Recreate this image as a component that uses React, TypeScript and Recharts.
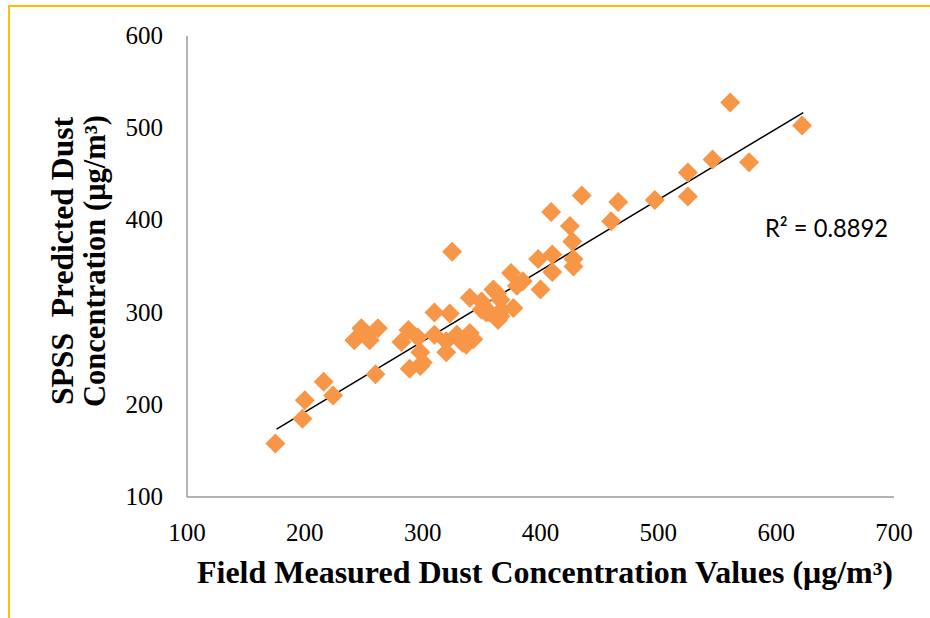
import { ScatterChart, Scatter, XAxis, YAxis, ReferenceLine } from 'recharts';

// field measured dust concentration (x) and SPSS predicted value (y), µg/m3
const fieldValues = [
  175, 198, 200, 216, 224, 260, 242, 248, 255, 262, 252,
  282, 288, 296, 298, 289, 298, 300, 310, 323, 310, 320,
  320, 329, 325, 334, 340, 343, 337, 340, 350, 350, 354,
  357, 360, 363, 364, 366, 366, 367, 375, 377, 380, 385,
  398, 400, 409, 410, 410, 425, 427, 428, 428, 435, 460,
  466, 497, 525, 525, 546, 561, 577, 622,
];
const predictedValues = [
  158, 185, 205, 225, 210, 233, 270, 283, 270, 283, 276,
  268, 281, 273, 257, 239, 242, 246, 300, 299, 276, 269,
  257, 276, 366, 267, 278, 271, 265, 316, 312, 303, 300,
  300, 325, 321, 292, 296, 314, 303, 343, 305, 329, 334,
  358, 325, 409, 363, 344, 394, 377, 358, 350, 427, 399,
  420, 422, 452, 426, 466, 528, 463, 503,
];

// linear trend line ends
const trendStart = { x: 176, y: 173.6 };
const trendEnd = { x: 623, y: 517 };
const rSquared = '0.8892';

const xTicks = [100, 200, 300, 400, 500, 600, 700];
const yTicks = [100, 200, 300, 400, 500, 600];

const data = fieldValues.map((x, i) => ({ x, y: predictedValues[i] }));

const serif = '"Liberation Serif", "Times New Roman", serif';

const Diamond = (props: any) => {
  const { cx, cy } = props;
  const r = 10;
  return <path d={`M${cx},${cy - r}L${cx + r},${cy}L${cx},${cy + r}L${cx - r},${cy}Z`} fill="#F79646" />;
};

const XTick = (props: any) => {
  const { x, y, payload } = props;
  return (
    <text x={x} y={y + 18} textAnchor="middle" fontFamily={serif} fontSize={25} fill="#000">
      {payload.value}
    </text>
  );
};

const YTick = (props: any) => {
  const { x, y, payload } = props;
  return (
    <text x={x} y={y + 8} textAnchor="end" fontFamily={serif} fontSize={25} fill="#000">
      {payload.value}
    </text>
  );
};

const XTitle = (props: any) => {
  const { viewBox } = props;
  return (
    <text x={viewBox.x + 10} y={viewBox.y + 86} fontFamily={serif} fontWeight="bold" fontSize={31}
      fill="#000" textLength={696} lengthAdjust="spacingAndGlyphs">
      Field Measured Dust Concentration Values (μg/m³)
    </text>
  );
};

const YTitle = () => {
  const cy = 261;
  return (
    <g>
      <text transform={`translate(73,${cy}) rotate(-90)`} textAnchor="middle" fontFamily={serif}
        fontWeight="bold" fontSize={31} fill="#000" textLength={288} lengthAdjust="spacingAndGlyphs">
        {'SPSS\u00a0\u00a0Predicted Dust'}
      </text>
      <text transform={`translate(105,${cy}) rotate(-90)`} textAnchor="middle" fontFamily={serif}
        fontWeight="bold" fontSize={31} fill="#000" textLength={292} lengthAdjust="spacingAndGlyphs">
        Concentration (μg/m³)
      </text>
    </g>
  );
};

export default function App() {
  return (
    <div style={{ position: 'absolute', left: 0, top: 0, width: 930, height: 618, background: '#fff' }}>
      <div style={{ position: 'absolute', left: 8, top: 5, right: 0, bottom: 0,
        borderTop: '2px solid #FFC000', borderLeft: '2px solid #FFC000' }} />
      <div style={{ position: 'absolute', left: 0, top: 0 }}>
        <ScatterChart width={930} height={618} margin={{ top: 36, right: 36, bottom: 0, left: 0 }}>
          <XAxis type="number" dataKey="x" domain={[100, 700]} ticks={xTicks} height={121}
            tickLine={false} tickSize={0} tickMargin={26} axisLine={{ stroke: '#9a9a9a', strokeWidth: 1.5 }}
            tick={<XTick />} label={<XTitle />} />
          <YAxis type="number" dataKey="y" domain={[100, 600]} ticks={yTicks} width={187}
            tickLine={false} tickSize={0} tickMargin={24} axisLine={{ stroke: '#9a9a9a', strokeWidth: 1.5 }}
            tick={<YTick />} label={<YTitle />} />
          <Scatter data={data} shape={<Diamond />} isAnimationActive={false} />
          <ReferenceLine segment={[trendStart, trendEnd]} stroke="#000" strokeWidth={1.5} />
        </ScatterChart>
      </div>
      <svg width={930} height={618} style={{ position: 'absolute', left: 0, top: 0, pointerEvents: 'none' }}>
        <text x={765} y={237} fontFamily="Lato, 'Open Sans', sans-serif" fontSize={25} fill="#000"
          textLength={123} lengthAdjust="spacingAndGlyphs">
          R² = {rSquared}
        </text>
      </svg>
    </div>
  );
}
